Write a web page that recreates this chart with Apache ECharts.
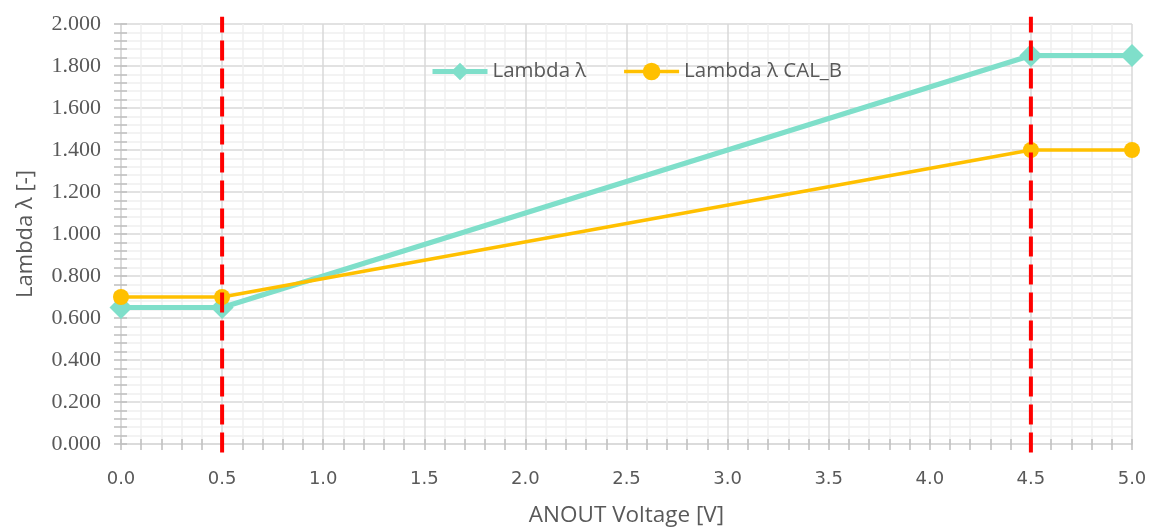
<!DOCTYPE html>
<html><head><meta charset="utf-8">
<script src="https://cdn.jsdelivr.net/npm/echarts@6/dist/echarts.min.js"></script>
<style>html,body{margin:0;padding:0;background:#fff}#c{width:1149px;height:527px}</style>
</head><body><div id="c"></div>
<script>
const voltage = [0.0, 0.5, 4.5, 5.0];
const lambda = [0.65, 0.65, 1.85, 1.85];
const lambdaCalB = [0.70, 0.70, 1.40, 1.40];
const markerVoltages = [0.5, 4.5];
const markerSpan = [-0.04, 2.035];
const seriesNames = ['Lambda λ', 'Lambda λ CAL_B'];
const xTitle = 'ANOUT Voltage [V]';
const yTitle = 'Lambda λ [-]';

const chart = echarts.init(document.getElementById('c'));
const grid = {left: 121, right: 17, top: 24, bottom: 83, containLabel: false, outerBoundsMode: 'none'};
const tickCol = '#bfbfbf';
const xBase = {type: 'value', min: 0, max: 5, interval: 0.5, gridIndex: 0};
const yBase = {type: 'value', min: 0, max: 2, interval: 0.2, gridIndex: 0};
const dashSeries = markerVoltages.map((v, i) => ({
  type: 'line', name: 'm' + i, clip: false, z: 10, silent: true,
  data: markerSpan.map(y => [v, y]), showSymbol: false, symbol: 'none',
  lineStyle: {color: '#ff0000', width: 4, type: [20, 8]}
}));
chart.setOption({
  animation: false,
  grid: grid,
  legend: {
    data: [
      {name: seriesNames[0], itemStyle: {color: '#7fdfca'}, lineStyle: {width: 5, color: '#7fdfca'}},
      {name: seriesNames[1], itemStyle: {color: '#ffc000'}, lineStyle: {width: 3.5, color: '#ffc000'}}
    ],
    top: 56, left: 425, itemWidth: 55, itemHeight: 22, itemGap: 36,
    textStyle: {fontFamily: 'Open Sans', fontSize: 20.5, color: '#595959'}
  },
  xAxis: [
    Object.assign({}, xBase, {
      name: xTitle, nameLocation: 'middle', nameGap: 60,
      nameTextStyle: {fontFamily: 'Open Sans', fontSize: 22.5, color: '#595959'},
      axisLine: {show: true, lineStyle: {color: '#d9d9d9', width: 1.5}},
      axisTick: {show: true, length: 6, lineStyle: {color: tickCol, width: 1.5}},
      minorTick: {show: true, splitNumber: 5, length: 6, lineStyle: {color: tickCol, width: 1.5}},
      splitLine: {show: true, lineStyle: {color: '#d9d9d9', width: 1.5}},
      minorSplitLine: {show: true, lineStyle: {color: '#f0f0f0', width: 1.5}},
      axisLabel: {fontFamily: 'DejaVu Sans', fontSize: 18, color: '#595959', margin: 26,
        formatter: v => v.toFixed(1)}
    }),
    Object.assign({}, xBase, {
      position: 'bottom', axisLine: {show: false}, axisLabel: {show: false}, splitLine: {show: false},
      axisTick: {show: true, inside: true, length: 5, lineStyle: {color: tickCol, width: 1.5}},
      minorTick: {show: true, splitNumber: 5, length: 5, lineStyle: {color: tickCol, width: 1.5}}
    })
  ],
  yAxis: [
    Object.assign({}, yBase, {
      name: yTitle, nameLocation: 'middle', nameGap: 84,
      nameTextStyle: {fontFamily: 'Open Sans', fontSize: 22, color: '#595959'},
      axisLine: {show: true, lineStyle: {color: '#d9d9d9', width: 1.5}},
      axisTick: {show: true, length: 7, lineStyle: {color: tickCol, width: 1.5}},
      minorTick: {show: true, splitNumber: 5, length: 7, lineStyle: {color: tickCol, width: 1.5}},
      splitLine: {show: true, lineStyle: {color: '#d9d9d9', width: 1.5}},
      minorSplitLine: {show: true, lineStyle: {color: '#f0f0f0', width: 1.5}},
      axisLabel: {fontFamily: 'Liberation Serif', fontSize: 22, color: '#595959', margin: 20,
        formatter: v => v.toFixed(3)}
    }),
    Object.assign({}, yBase, {
      position: 'left', axisLine: {show: false}, axisLabel: {show: false}, splitLine: {show: false},
      axisTick: {show: true, inside: true, length: 6, lineStyle: {color: tickCol, width: 1.5}},
      minorTick: {show: true, splitNumber: 5, length: 6, lineStyle: {color: tickCol, width: 1.5}}
    })
  ],
  series: [
    {
      type: 'line', name: seriesNames[0], z: 3,
      data: voltage.map((x, i) => [x, lambda[i]]),
      symbol: 'diamond', symbolSize: 23,
      itemStyle: {color: '#7fdfca'},
      lineStyle: {color: '#7fdfca', width: 5}
    },
    {
      type: 'line', name: seriesNames[1], z: 4,
      data: voltage.map((x, i) => [x, lambdaCalB[i]]),
      symbol: 'circle', symbolSize: 16,
      itemStyle: {color: '#ffc000'},
      lineStyle: {color: '#ffc000', width: 3.5}
    }
  ].concat(dashSeries)
});
</script></body></html>
